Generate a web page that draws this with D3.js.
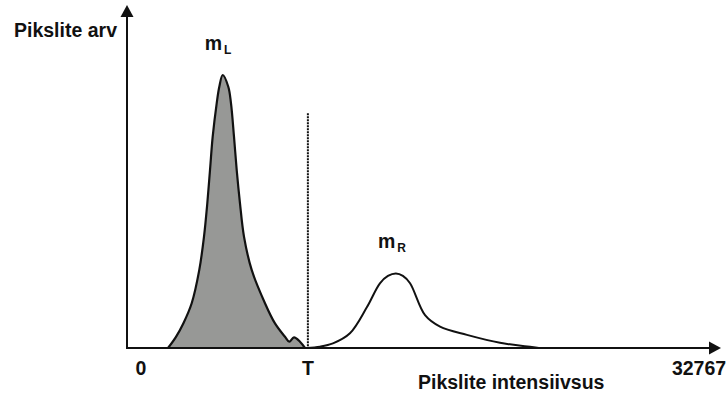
<!DOCTYPE html>
<html>
<head>
<meta charset="utf-8">
<script src="https://cdn.jsdelivr.net/npm/d3@7"></script>
<style>
  body { margin: 0; background: #fff; }
  text { font-family: "Liberation Sans", Arial, sans-serif; font-weight: bold; fill: #111; }
</style>
</head>
<body>
<svg id="chart" width="728" height="396"></svg>
<script>
// histogram of the dark part (left peak, filled) - intensity, pixel count
const leftIntensity = [1585, 2055, 2484, 2977, 3423, 3699, 3893, 4052, 4210, 4445, 4598, 4797,
                       5126, 5285, 5461, 5620, 5813, 6048, 6500, 7281, 7868, 8456, 8708, 8984, 9336, 9630];
const leftCount = [0, 4.1, 9.0, 16.4, 28.6, 40.8, 53.0, 65.2, 77.4, 89.6, 95.7, 100,
                   95.7, 89.6, 77.4, 65.2, 53.0, 40.8, 28.6, 16.4, 9.0, 4.1, 2.3, 3.9, 2.3, 0];

// histogram of the bright part (right peak, outline only)
const rightIntensity = [9730, 10510, 11270, 12270, 13270, 14030, 14500, 14970, 15380, 15800, 16680, 17560, 19140, 21080, 23430];
const rightCount = [0, 0.5, 1.7, 5.4, 15, 23.7, 26.4, 27.3, 26.4, 23.7, 12, 7.8, 4.8, 1.9, 0];

const threshold = 9800;
const thresholdTop = 86;
const maxIntensity = 32767;
const xTickLabels = [{v: 0, t: "0"}, {v: threshold, t: "T"}, {v: maxIntensity, t: "32767"}];
const peakLabels = [{v: 4797, c: 100, m: "L"}, {v: 14970, c: 27.3, m: "R"}];

const svg = d3.select("#chart");

const x = d3.scaleLinear().domain([0, maxIntensity]).range([141, 699]);
const y = d3.scaleLinear().domain([0, 100]).range([348, 75]);

const originX = 127, originY = y(0);
const axisTop = 5, axisRight = 721;

const leftData = leftIntensity.map((v, i) => [v, leftCount[i]]);
const rightData = rightIntensity.map((v, i) => [v, rightCount[i]]);

const area = d3.area()
    .x(d => x(d[0]))
    .y0(y(0))
    .y1(d => y(d[1]))
    .curve(d3.curveCatmullRom);
const line = d3.line()
    .x(d => x(d[0]))
    .y(d => y(d[1]))
    .curve(d3.curveCatmullRom);

svg.append("path")
    .datum(leftData)
    .attr("d", area)
    .attr("fill", "#979896");
svg.append("path")
    .datum(leftData)
    .attr("d", line)
    .attr("fill", "none")
    .attr("stroke", "#111")
    .attr("stroke-width", 2.2);

svg.append("path")
    .datum(rightData)
    .attr("d", line)
    .attr("fill", "none")
    .attr("stroke", "#111")
    .attr("stroke-width", 2);

// threshold line
svg.append("line")
    .attr("x1", x(threshold)).attr("x2", x(threshold))
    .attr("y1", y(thresholdTop)).attr("y2", y(0))
    .attr("stroke", "#111")
    .attr("stroke-width", 2)
    .attr("stroke-dasharray", "2,1");

// axes with arrows
svg.append("line")
    .attr("x1", originX).attr("x2", originX)
    .attr("y1", originY).attr("y2", axisTop + 10)
    .attr("stroke", "#111").attr("stroke-width", 2);
svg.append("path")
    .attr("d", `M${originX},${axisTop}L${originX - 6.5},${axisTop + 12}L${originX + 6.5},${axisTop + 12}Z`)
    .attr("fill", "#111");
svg.append("line")
    .attr("x1", originX - 1).attr("x2", axisRight - 10)
    .attr("y1", originY).attr("y2", originY)
    .attr("stroke", "#111").attr("stroke-width", 2);
svg.append("path")
    .attr("d", `M${axisRight},${originY}L${axisRight - 12},${originY - 6.5}L${axisRight - 12},${originY + 6.5}Z`)
    .attr("fill", "#111");

// tick labels
svg.selectAll(".xlab")
    .data(xTickLabels)
    .join("text")
    .attr("class", "xlab")
    .attr("x", d => x(d.v))
    .attr("y", 375)
    .attr("text-anchor", "middle")
    .attr("font-size", 19.5)
    .text(d => d.t);

// axis titles
svg.append("text")
    .attr("x", 14).attr("y", 37)
    .attr("font-size", 19.5)
    .text("Pikslite arv");
svg.append("text")
    .attr("x", 418).attr("y", 389)
    .attr("font-size", 19.5)
    .text("Pikslite intensiivsus");

// peak labels
const pl = svg.selectAll(".peak")
    .data(peakLabels)
    .join("text")
    .attr("class", "peak")
    .attr("x", d => x(d.v) - 18)
    .attr("y", d => y(d.c) - 25)
    .attr("font-size", 19.5);
pl.append("tspan").text("m");
pl.append("tspan")
    .attr("font-size", 12)
    .attr("dx", 2)
    .attr("dy", 4)
    .text(d => d.m);
</script>
</body>
</html>
